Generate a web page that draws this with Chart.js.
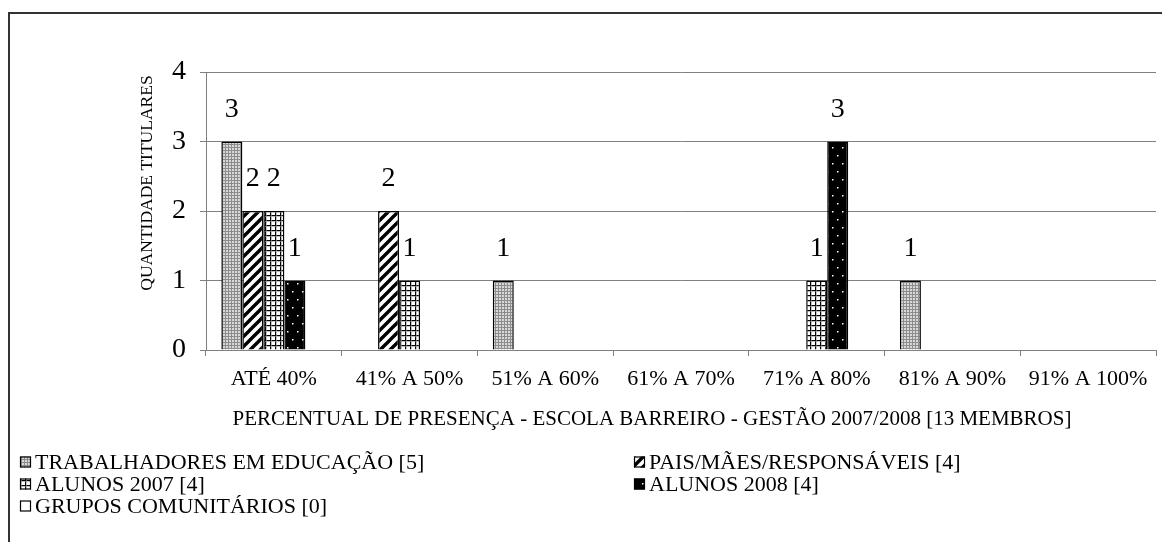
<!DOCTYPE html>
<html>
<head>
<meta charset="utf-8">
<script src="https://cdn.jsdelivr.net/npm/chart.js@4/dist/chart.umd.min.js"></script>
<style>
  html, body { margin: 0; padding: 0; background: #fff; }
  #wrap { width: 1162px; height: 542px; position: relative; }
</style>
</head>
<body>
<div id="wrap"><canvas id="chart" width="1162" height="542"></canvas></div>
<script>
// Categories (attendance ranges) and member counts per group
const categories = ['ATÉ 40%', '41% A 50%', '51% A 60%', '61% A 70%', '71% A 80%', '81% A 90%', '91% A 100%'];
const seriesNames = ['TRABALHADORES EM EDUCAÇÃO', 'PAIS/MÃES/RESPONSÁVEIS', 'ALUNOS 2007', 'ALUNOS 2008', 'GRUPOS COMUNITÁRIOS'];
const trabalhadores = [3, 0, 1, 0, 0, 1, 0];
const pais = [2, 2, 0, 0, 0, 0, 0];
const alunos2007 = [2, 1, 0, 0, 1, 0, 0];
const alunos2008 = [1, 0, 0, 0, 3, 0, 0];
const grupos = [0, 0, 0, 0, 0, 0, 0];
const yTicks = [0, 1, 2, 3, 4];
const xTitle = 'PERCENTUAL DE PRESENÇA - ESCOLA BARREIRO - GESTÃO 2007/2008 [13 MEMBROS]';
const yTitle = 'QUANTIDADE TITULARES';

const SERIF = '"Liberation Serif", "Times New Roman", "DejaVu Serif", serif';

// ---- fill patterns ----
function makeTile(w, h, paint) {
  const c = document.createElement('canvas');
  c.width = w; c.height = h;
  const g = c.getContext('2d');
  paint(g, w, h);
  return document.createElement('canvas').getContext('2d').createPattern(c, 'repeat');
}
const patStipple = makeTile(3, 3, (g) => {
  g.fillStyle = '#ffffff'; g.fillRect(0, 0, 3, 3);
  g.fillStyle = '#8c8c8c'; g.fillRect(0, 0, 3, 1); g.fillRect(0, 0, 1, 3);
  g.fillStyle = '#d8d8d8'; g.fillRect(1, 1, 2, 2);
});
const patDiagonal = makeTile(10, 10, (g) => {
  g.fillStyle = '#ffffff'; g.fillRect(0, 0, 10, 10);
  g.strokeStyle = '#000000'; g.lineWidth = 3.4;
  g.beginPath();
  g.moveTo(-2, 12); g.lineTo(12, -2);
  g.moveTo(-7, 7); g.lineTo(7, -7);
  g.moveTo(3, 17); g.lineTo(17, 3);
  g.stroke();
});
const patGrid = makeTile(5, 5, (g) => {
  g.fillStyle = '#ffffff'; g.fillRect(0, 0, 5, 5);
  g.fillStyle = '#000000'; g.fillRect(0, 0, 5, 1); g.fillRect(0, 0, 1, 5);
  g.fillStyle = '#9a9a9a'; g.fillRect(0, 1, 5, 0.6); g.fillRect(1, 0, 0.6, 5);
});
const patDots = makeTile(10, 16, (g) => {
  g.fillStyle = '#000000'; g.fillRect(0, 0, 10, 16);
  g.fillStyle = '#ffffff'; g.fillRect(2, 3, 1.5, 1.5); g.fillRect(7, 11, 1.5, 1.5);
});
const fills = [patStipple, patDiagonal, patGrid, patDots, '#ffffff'];
const seriesData = [trabalhadores, pais, alunos2007, alunos2008, grupos];

const datasets = seriesData.map((vals, i) => ({
  label: seriesNames[i],
  data: vals,
  backgroundColor: fills[i],
  borderColor: '#000000',
  borderWidth: (ctx) => (ctx.raw > 0 ? 1.5 : 0),
  categoryPercentage: 0.774,
  barPercentage: 1.0
}));

// ---- value labels above bars ----
const valueLabels = {
  id: 'valueLabels',
  afterDatasetsDraw(chart) {
    const ctx = chart.ctx;
    ctx.save();
    ctx.font = '28px ' + SERIF;
    ctx.fillStyle = '#000';
    ctx.textAlign = 'center';
    ctx.textBaseline = 'middle';
    chart.data.datasets.forEach((ds, di) => {
      const meta = chart.getDatasetMeta(di);
      meta.data.forEach((el, i) => {
        const v = ds.data[i];
        if (v > 0) ctx.fillText(String(v), el.x, el.y - 32);
      });
    });
    ctx.restore();
  }
};

// ---- frame, axis titles and legend ----
const decorations = {
  id: 'decorations',
  afterDraw(chart) {
    const ctx = chart.ctx;
    ctx.save();
    // outer frame (left and top edges)
    ctx.strokeStyle = '#333333';
    ctx.lineWidth = 2;
    ctx.beginPath();
    ctx.moveTo(9, 545); ctx.lineTo(9, 13); ctx.lineTo(1170, 13);
    ctx.stroke();

    ctx.fillStyle = '#000';
    // x title
    ctx.font = '21px ' + SERIF;
    ctx.textAlign = 'center';
    ctx.textBaseline = 'middle';
    ctx.fillText(xTitle, 652, 419);
    // y title
    ctx.save();
    ctx.translate(147, 183);
    ctx.rotate(-Math.PI / 2);
    ctx.font = '17.5px ' + SERIF;
    ctx.fillText(yTitle, 0, 0);
    ctx.restore();

    // legend: two columns
    const pos = [[20, 462], [634, 462], [20, 484], [634, 484], [20, 506]];
    ctx.font = '22px ' + SERIF;
    ctx.textAlign = 'left';
    seriesNames.forEach((name, i) => {
      const [x, y] = pos[i];
      const total = seriesData[i].reduce((a, b) => a + b, 0);
      ctx.fillStyle = fills[i];
      ctx.fillRect(x, y - 5.5, 11, 11);
      ctx.strokeStyle = '#000';
      ctx.lineWidth = 1.2;
      ctx.strokeRect(x + 0.5, y - 5, 10, 10);
      ctx.fillStyle = '#000';
      ctx.fillText(name + ' [' + total + ']', x + 15, y + 1);
    });
    ctx.restore();
  }
};

new Chart(document.getElementById('chart'), {
  type: 'bar',
  data: { labels: categories, datasets },
  options: {
    responsive: false,
    animation: false,
    layout: { padding: { top: 72, right: 6, bottom: 92, left: 0 } },
    plugins: {
      legend: { display: false },
      tooltip: { enabled: false },
      title: { display: false }
    },
    scales: {
      x: {
        afterFit: (s) => { s.height = 100; },
        grid: { display: true, drawOnChartArea: false, drawTicks: true, tickLength: 6, color: '#808080', offset: true },
        border: { color: '#808080', width: 1 },
        ticks: { color: '#000', font: { family: SERIF, size: 22 }, padding: 10, maxRotation: 0, autoSkip: false }
      },
      y: {
        min: yTicks[0],
        max: yTicks[yTicks.length - 1],
        afterFit: (s) => { s.width = 206; },
        afterBuildTicks: (s) => { s.ticks = yTicks.map(v => ({ value: v })); },
        grid: { color: '#808080', tickLength: 6, drawTicks: true },
        border: { color: '#808080', width: 1 },
        ticks: { color: '#000', font: { family: SERIF, size: 28 }, padding: 14 }
      }
    }
  },
  plugins: [valueLabels, decorations]
});
</script>
</body>
</html>
